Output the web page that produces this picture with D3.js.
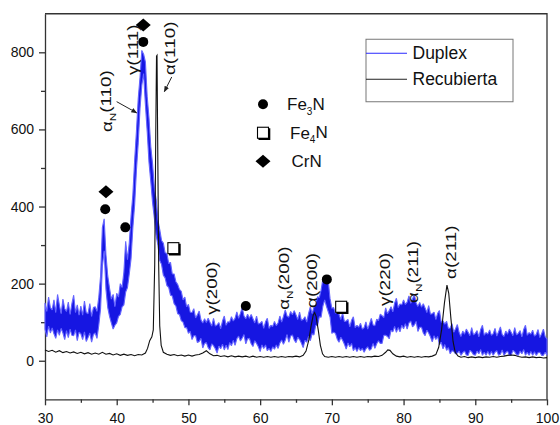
<!DOCTYPE html>
<html>
<head>
<meta charset="utf-8">
<script src="https://cdn.jsdelivr.net/npm/d3@7"></script>
<style>
    body { margin: 0; background: #fff; }
    text { font-family: "Liberation Sans", Arial, sans-serif; fill: #111; }
</style>
</head>
<body>
<div id="chart"></div>
<script>
// ---- data ----
const duplexStart = 30;     // 2theta of first Duplex sample
const duplexStep = 0.25;    // sampling of the Duplex scan
// the Duplex scan is very noisy: upper and lower edge of its band, 4 samples per degree (30 .. 100)
const duplexHigh = [
    150, 128, 165, 138,   132, 158, 125, 172,   145, 122, 160, 135,   128, 152, 120, 148,   // 30-33
    170, 125, 145, 118,   142, 118, 155, 125,   122, 148, 115, 138,   140, 128, 165, 220,   // 34-37
    345, 368, 275, 220,   188, 160, 172, 140,   175, 165, 200, 190,   230, 310, 262, 305,   // 38-41
    375, 430, 520, 595,   680, 735, 805, 795,   775, 685, 630, 555,   510, 448, 418, 365,   // 42-45
    340, 312, 305, 280,   278, 252, 255, 225,   225, 205, 198, 185,   180, 158, 165, 140,   // 46-49
    146, 126, 125, 135,   111, 119, 129, 106,   98, 109, 99, 110,     100, 90, 110, 90,     // 50-53
    93, 99, 83, 103,      116, 92, 101, 100,    114, 103, 110, 127,   110, 123, 138, 116,   // 54-57
    109, 121, 110, 120,   109, 98, 116, 95,     97, 102, 84, 101,     110, 84, 92, 89,      // 58-61
    102, 91, 98, 116,     100, 115, 132, 116,   113, 128, 119, 130,   119, 107, 126, 105,   // 62-65
    107, 114, 100, 123,   140, 122, 139, 145,   166, 164, 183, 212,   204, 213, 206, 161,   // 66-69
    136, 138, 123, 132,   120, 107, 124, 102,   103, 107, 88, 105,    114, 86, 92, 87,      // 70-73
    97, 82, 86, 101,      82, 95, 110, 93,      91, 108, 104, 121,    117, 112, 137, 122,   // 74-77
    130, 140, 127, 149,   162, 138, 147, 145,   158, 146, 152, 168,   149, 160, 172, 150,   // 78-81
    141, 151, 139, 148,   137, 125, 143, 121,   122, 126, 107, 123,   130, 100, 103, 95,    // 82-85
    102, 84, 85, 96,      74, 83, 94, 73,       63, 77, 69, 82,       74, 65, 86, 67,       // 86-89
    71, 78, 62, 81,       92, 66, 73, 69,       80, 66, 70, 84,       64, 75, 88, 68,       // 90-93
    63, 77, 69, 82,       74, 65, 86, 67,       71, 78, 62, 81,       92, 66, 73, 69,       // 94-97
    79, 64, 68, 81,       60, 70, 82, 62,       57                                            // 98-100
];
const duplexLow = [
    82, 62, 90, 72,       85, 70, 58, 80,       66, 84, 72, 55,       78, 60, 82, 66,       // 30-33
    65, 80, 52, 74,       70, 55, 75, 50,       60, 72, 48, 68,       72, 58, 92, 135,      // 34-37
    245, 285, 185, 138,   115, 98, 82, 92,      98, 115, 120, 140,    145, 178, 190, 225,   // 38-41
    265, 345, 405, 495,   565, 655, 715, 745,   665, 595, 515, 465,   410, 370, 325, 300,   // 42-45
    260, 250, 222, 215,   195, 190, 170, 168,   148, 142, 122, 120,   104, 100, 86, 86,     // 46-49
    71, 76, 55, 65,       65, 47, 50, 58,       33, 45, 47, 34,       28, 44, 39, 31,       // 50-53
    20, 38, 31, 43,       28, 40, 29, 47,       39, 53, 40, 57,       64, 51, 59, 68,       // 54-57
    44, 57, 58, 44,       37, 52, 45, 36,       24, 41, 32, 41,       26, 32, 24, 36,       // 58-61
    30, 41, 32, 46,       54, 43, 53, 68,       48, 64, 67, 54,       47, 61, 55, 46,       // 62-65
    34, 53, 48, 63,       52, 70, 67, 92,       91, 114, 113, 142,    158, 141, 127, 113,   // 66-69
    71, 74, 71, 56,       48, 61, 53, 43,       30, 46, 36, 45,       26, 34, 24, 34,       // 70-73
    26, 32, 22, 31,       36, 27, 31, 45,       32, 44, 52, 45,       45, 66, 66, 63,       // 74-77
    57, 79, 75, 89,       74, 86, 75, 92,       83, 96, 82, 98,       103, 88, 93, 102,     // 78-81
    76, 87, 87, 72,       65, 79, 72, 62,       49, 65, 55, 63,       42, 48, 31, 42,       // 82-85
    27, 34, 18, 26,       24, 18, 20, 25,       14, 21, 25, 15,       14, 27, 23, 16,       // 86-89
    14, 25, 18, 29,       14, 22, 14, 24,       14, 24, 14, 22,       26, 14, 17, 28,       // 90-93
    14, 21, 25, 14,       14, 27, 23, 16,       14, 25, 18, 29,       14, 22, 14, 24,       // 94-97
    14, 23, 14, 21,       22, 14, 14, 22,       14                                            // 98-100
];

// Recubierta scan as [2theta, counts]
const recubierta = [
    [30, 28], [30.5, 24], [31, 27], [31.5, 22], [32, 26], [32.5, 21], [33, 24], [33.5, 20],
    [34, 23], [34.5, 19], [35, 22], [35.5, 18], [36, 21], [36.5, 17], [37, 20], [37.5, 17],
    [38, 22], [38.5, 17], [39, 19], [39.5, 15], [40, 18], [40.5, 14], [41, 17], [41.5, 14],
    [42, 16], [42.5, 13], [43, 16], [43.5, 15], [44, 20], [44.3, 32], [44.6, 52], [44.9, 62],
    [45.1, 80], [45.3, 250], [45.45, 600], [45.55, 790], [45.62, 792], [45.7, 600], [45.85, 250],
    [46, 90], [46.2, 40], [46.5, 22], [47, 17], [47.5, 14], [48, 16], [48.5, 13], [49, 15],
    [49.5, 12], [50, 15], [50.5, 12], [51, 15], [51.5, 16], [52, 20], [52.5, 26], [53, 18],
    [53.5, 13], [54, 14], [54.5, 11], [55, 13], [55.5, 10], [56, 13], [56.5, 10], [57, 12],
    [57.5, 10], [58, 12], [58.5, 9], [59, 12], [59.5, 9], [60, 11], [60.5, 9], [61, 11],
    [61.5, 9], [62, 11], [62.5, 9], [63, 11], [63.5, 9], [64, 11], [64.5, 10], [65, 12],
    [65.5, 10], [66, 14], [66.4, 25], [66.8, 55], [67.1, 90], [67.4, 118], [67.6, 125],
    [67.8, 115], [68.1, 80], [68.4, 40], [68.7, 18], [69, 11], [69.5, 9], [70, 11], [70.5, 9],
    [71, 11], [71.5, 9], [72, 11], [72.5, 9], [73, 11], [73.5, 9], [74, 11], [74.5, 9],
    [75, 11], [75.5, 10], [76, 12], [76.5, 11], [77, 14], [77.5, 22], [77.8, 28], [78.1, 27],
    [78.5, 18], [79, 12], [79.5, 10], [80, 12], [80.5, 9], [81, 11], [81.5, 9], [82, 11],
    [82.5, 9], [83, 11], [83.5, 10], [84, 12], [84.5, 16], [84.9, 35], [85.3, 80], [85.7, 150],
    [86.05, 196], [86.3, 175], [86.6, 110], [86.9, 50], [87.2, 22], [87.6, 12], [88, 9],
    [88.5, 11], [89, 8], [89.5, 10], [90, 8], [90.5, 10], [91, 8], [91.5, 10], [92, 9],
    [92.5, 11], [93, 9], [93.5, 11], [94, 12], [94.5, 14], [95, 15], [95.5, 14], [96, 11],
    [96.5, 9], [97, 10], [97.5, 8], [98, 10], [98.5, 8], [99, 9], [99.5, 7], [100, 8]
];

const xTicks = [30, 40, 50, 60, 70, 80, 90, 100];
const xMinorTicks = [35, 45, 55, 65, 75, 85, 95];
const yTicks = [0, 200, 400, 600, 800];
const yMinorTicks = [100, 300, 500, 700];

const seriesNames = ["Duplex", "Recubierta"];

// phase markers on the peaks: [2theta, counts, phase]
const phaseMarks = [
    [43.7, 871, "CrN"], [43.7, 827, "Fe3N"], [38.5, 438, "CrN"], [38.4, 393, "Fe3N"],
    [41.2, 346, "Fe3N"], [47.9, 292, "Fe4N"], [58.0, 142, "Fe3N"], [69.3, 211, "Fe3N"],
    [71.3, 140, "Fe4N"]
];
const phaseNames = ["Fe3N", "Fe4N", "CrN"];

// reflection labels: [greek, subscript, hkl, 2theta, counts at start of text]
const peakLabels = [
    ["α", "N", "(110)", 38.6, 593], ["γ", "", "(111)", 42.27, 741], ["α", "", "(110)", 47.43, 741],
    ["γ", "", "(200)", 53.25, 119], ["α", "N", "(200)", 63.33, 132], ["α", "", "(200)", 67.18, 137],
    ["γ", "", "(220)", 77.41, 142], ["α", "N", "(211)", 81.32, 150], ["α", "", "(211)", 86.61, 212]
];
// arrows: [x1, y1, x2, y2] in data units
const labelArrows = [[39.99, 672, 42.79, 643], [47.67, 736, 46.64, 698]];

class XrdChart {

    constructor(_parentElement) {
        this.parentElement = _parentElement;
        this.initVis();
    }

    initVis() {
        let vis = this;

        vis.W = 560;
        vis.H = 425;
        vis.margin = { top: 13.75, right: 13, bottom: 25.7, left: 45 };
        vis.width = vis.W - vis.margin.left - vis.margin.right;
        vis.height = vis.H - vis.margin.top - vis.margin.bottom;

        vis.svg = d3.select("#" + vis.parentElement).append("svg")
            .attr("width", vis.W)
            .attr("height", vis.H)
            .append("g")
            .attr("transform", "translate(" + vis.margin.left + "," + vis.margin.top + ")");

        vis.x = d3.scaleLinear().domain([30, 100]).range([0, vis.width]);
        vis.y = d3.scaleLinear().domain([-100, 900]).range([vis.height, 0]);

        // band of the Duplex scan: [2theta, low, high]
        vis.duplex = duplexHigh.map((h, i) => [duplexStart + i * duplexStep, duplexLow[i], h]);

        vis.updateVis();
    }

    updateVis() {
        let vis = this;
        const axisColor = "#333";

        // frame on top and right
        vis.svg.append("path")
            .attr("d", `M0,0H${vis.width}V${vis.height}`)
            .attr("fill", "none")
            .attr("stroke", axisColor)
            .attr("stroke-width", 1.3);

        // axes, major and minor
        const xAxis = vis.svg.append("g").attr("transform", "translate(0," + vis.height + ")")
            .call(d3.axisBottom(vis.x).tickValues(xTicks).tickSize(6).tickSizeOuter(0).tickPadding(4));
        vis.svg.append("g").attr("transform", "translate(0," + vis.height + ")")
            .call(d3.axisBottom(vis.x).tickValues(xMinorTicks).tickSize(3.5).tickFormat(""))
            .select(".domain").remove();
        vis.svg.append("g")
            .call(d3.axisLeft(vis.y).tickValues(yTicks).tickSize(6).tickSizeOuter(0).tickPadding(5));
        vis.svg.append("g")
            .call(d3.axisLeft(vis.y).tickValues(yMinorTicks).tickSize(4).tickFormat(""))
            .select(".domain").remove();

        vis.svg.selectAll(".domain, .tick line")
            .attr("stroke", axisColor)
            .attr("stroke-width", 1.3);
        vis.svg.selectAll(".tick text")
            .attr("font-size", 14)
            .attr("font-family", "'Liberation Sans', Arial, sans-serif")
            .attr("fill", "#111");
        xAxis.selectAll(".tick text").attr("dy", "0.95em");

        // Duplex: noisy band
        const band = d3.area()
            .x(d => vis.x(d[0]))
            .y0(d => vis.y(d[1]))
            .y1(d => vis.y(d[2]));
        vis.svg.append("path")
            .datum(vis.duplex)
            .attr("d", band)
            .attr("fill", "#1616e2")
            .attr("stroke", "#6464ff")
            .attr("stroke-width", 1.1)
            .attr("stroke-linejoin", "bevel");

        // Recubierta
        const line = d3.line().x(d => vis.x(d[0])).y(d => vis.y(d[1]));
        vis.svg.append("path")
            .datum(recubierta)
            .attr("d", line)
            .attr("fill", "none")
            .attr("stroke", "#111")
            .attr("stroke-width", 1.1);

        // phase markers
        const drawMark = (g, kind, cx, cy) => {
            if (kind === "Fe3N") {
                g.append("circle").attr("cx", cx).attr("cy", cy).attr("r", 5).attr("fill", "#000");
            } else if (kind === "Fe4N") {
                const s = 11;
                g.append("rect").attr("x", cx - s / 2).attr("y", cy - s / 2)
                    .attr("width", s).attr("height", s)
                    .attr("fill", "#fff").attr("stroke", "#000").attr("stroke-width", 1.1);
                g.append("path")
                    .attr("d", `M${cx - s / 2 + 1},${cy + s / 2 + 0.8}H${cx + s / 2 + 0.8}V${cy - s / 2 + 1}`)
                    .attr("fill", "none").attr("stroke", "#000").attr("stroke-width", 2);
            } else {
                g.append("path")
                    .attr("d", `M${cx},${cy - 6.5}L${cx + 7.5},${cy}L${cx},${cy + 6.5}L${cx - 7.5},${cy}Z`)
                    .attr("fill", "#000");
            }
        };

        const marks = vis.svg.append("g");
        phaseMarks.forEach(d => drawMark(marks, d[2], vis.x(d[0]), vis.y(d[1])));

        // reflection labels, rotated and a bit stretched like the original
        const labels = vis.svg.append("g").selectAll("text")
            .data(peakLabels)
            .enter()
            .append("text")
            .attr("transform", d => `translate(${vis.x(d[3])},${vis.y(d[4])}) rotate(-90) scale(1.3,1)`)
            .attr("dy", "0.35em")
            .attr("font-size", 14.5);
        labels.append("tspan").text(d => d[0]);
        labels.append("tspan")
            .attr("font-size", 9)
            .attr("dy", d => d[1] ? "0.45em" : 0)
            .text(d => d[1]);
        labels.append("tspan")
            .attr("dy", d => d[1] ? "-0.3em" : 0)
            .text(d => d[2]);

        // arrows
        vis.svg.append("defs").append("marker")
            .attr("id", "arrow")
            .attr("viewBox", "0 0 10 10")
            .attr("refX", 9).attr("refY", 5)
            .attr("markerWidth", 6).attr("markerHeight", 6)
            .attr("orient", "auto")
            .append("path").attr("d", "M0,1L10,5L0,9Z").attr("fill", "#222");
        vis.svg.append("g").selectAll("line")
            .data(labelArrows)
            .enter()
            .append("line")
            .attr("x1", d => vis.x(d[0])).attr("y1", d => vis.y(d[1]))
            .attr("x2", d => vis.x(d[2])).attr("y2", d => vis.y(d[3]))
            .attr("stroke", "#222").attr("stroke-width", 1)
            .attr("marker-end", "url(#arrow)");

        // phase key
        const key = vis.svg.append("g").attr("transform", "translate(218,90.5)");
        const keyX = [24, 27, 28.5];
        phaseNames.forEach((p, i) => {
            const row = key.append("g").attr("transform", `translate(0,${i * 28.5})`);
            drawMark(row, p, 0, 0);
            const t = row.append("text").attr("x", keyX[i]).attr("y", 6).attr("font-size", 17);
            if (p === "CrN") {
                t.text("CrN");
            } else {
                t.append("tspan").text("Fe");
                t.append("tspan").attr("font-size", 10).attr("dy", "0.45em").text(p[2]);
                t.append("tspan").attr("dy", "-0.3em").text("N");
            }
        });

        // series legend
        const legend = vis.svg.append("g").attr("transform", "translate(321,25.5)");
        legend.append("rect")
            .attr("width", 147).attr("height", 62.5)
            .attr("fill", "#fff").attr("stroke", "#777").attr("stroke-width", 1);
        const legendColors = ["#2a2aff", "#222"];
        seriesNames.forEach((s, i) => {
            legend.append("line")
                .attr("x1", 0).attr("x2", 41)
                .attr("y1", 14 + i * 26).attr("y2", 14 + i * 26)
                .attr("stroke", legendColors[i]).attr("stroke-width", 1);
            legend.append("text")
                .attr("x", 46.5).attr("y", 20 + i * 26)
                .attr("font-size", 17.5)
                .text(s);
        });
    }
}

new XrdChart("chart");
</script>
</body>
</html>
